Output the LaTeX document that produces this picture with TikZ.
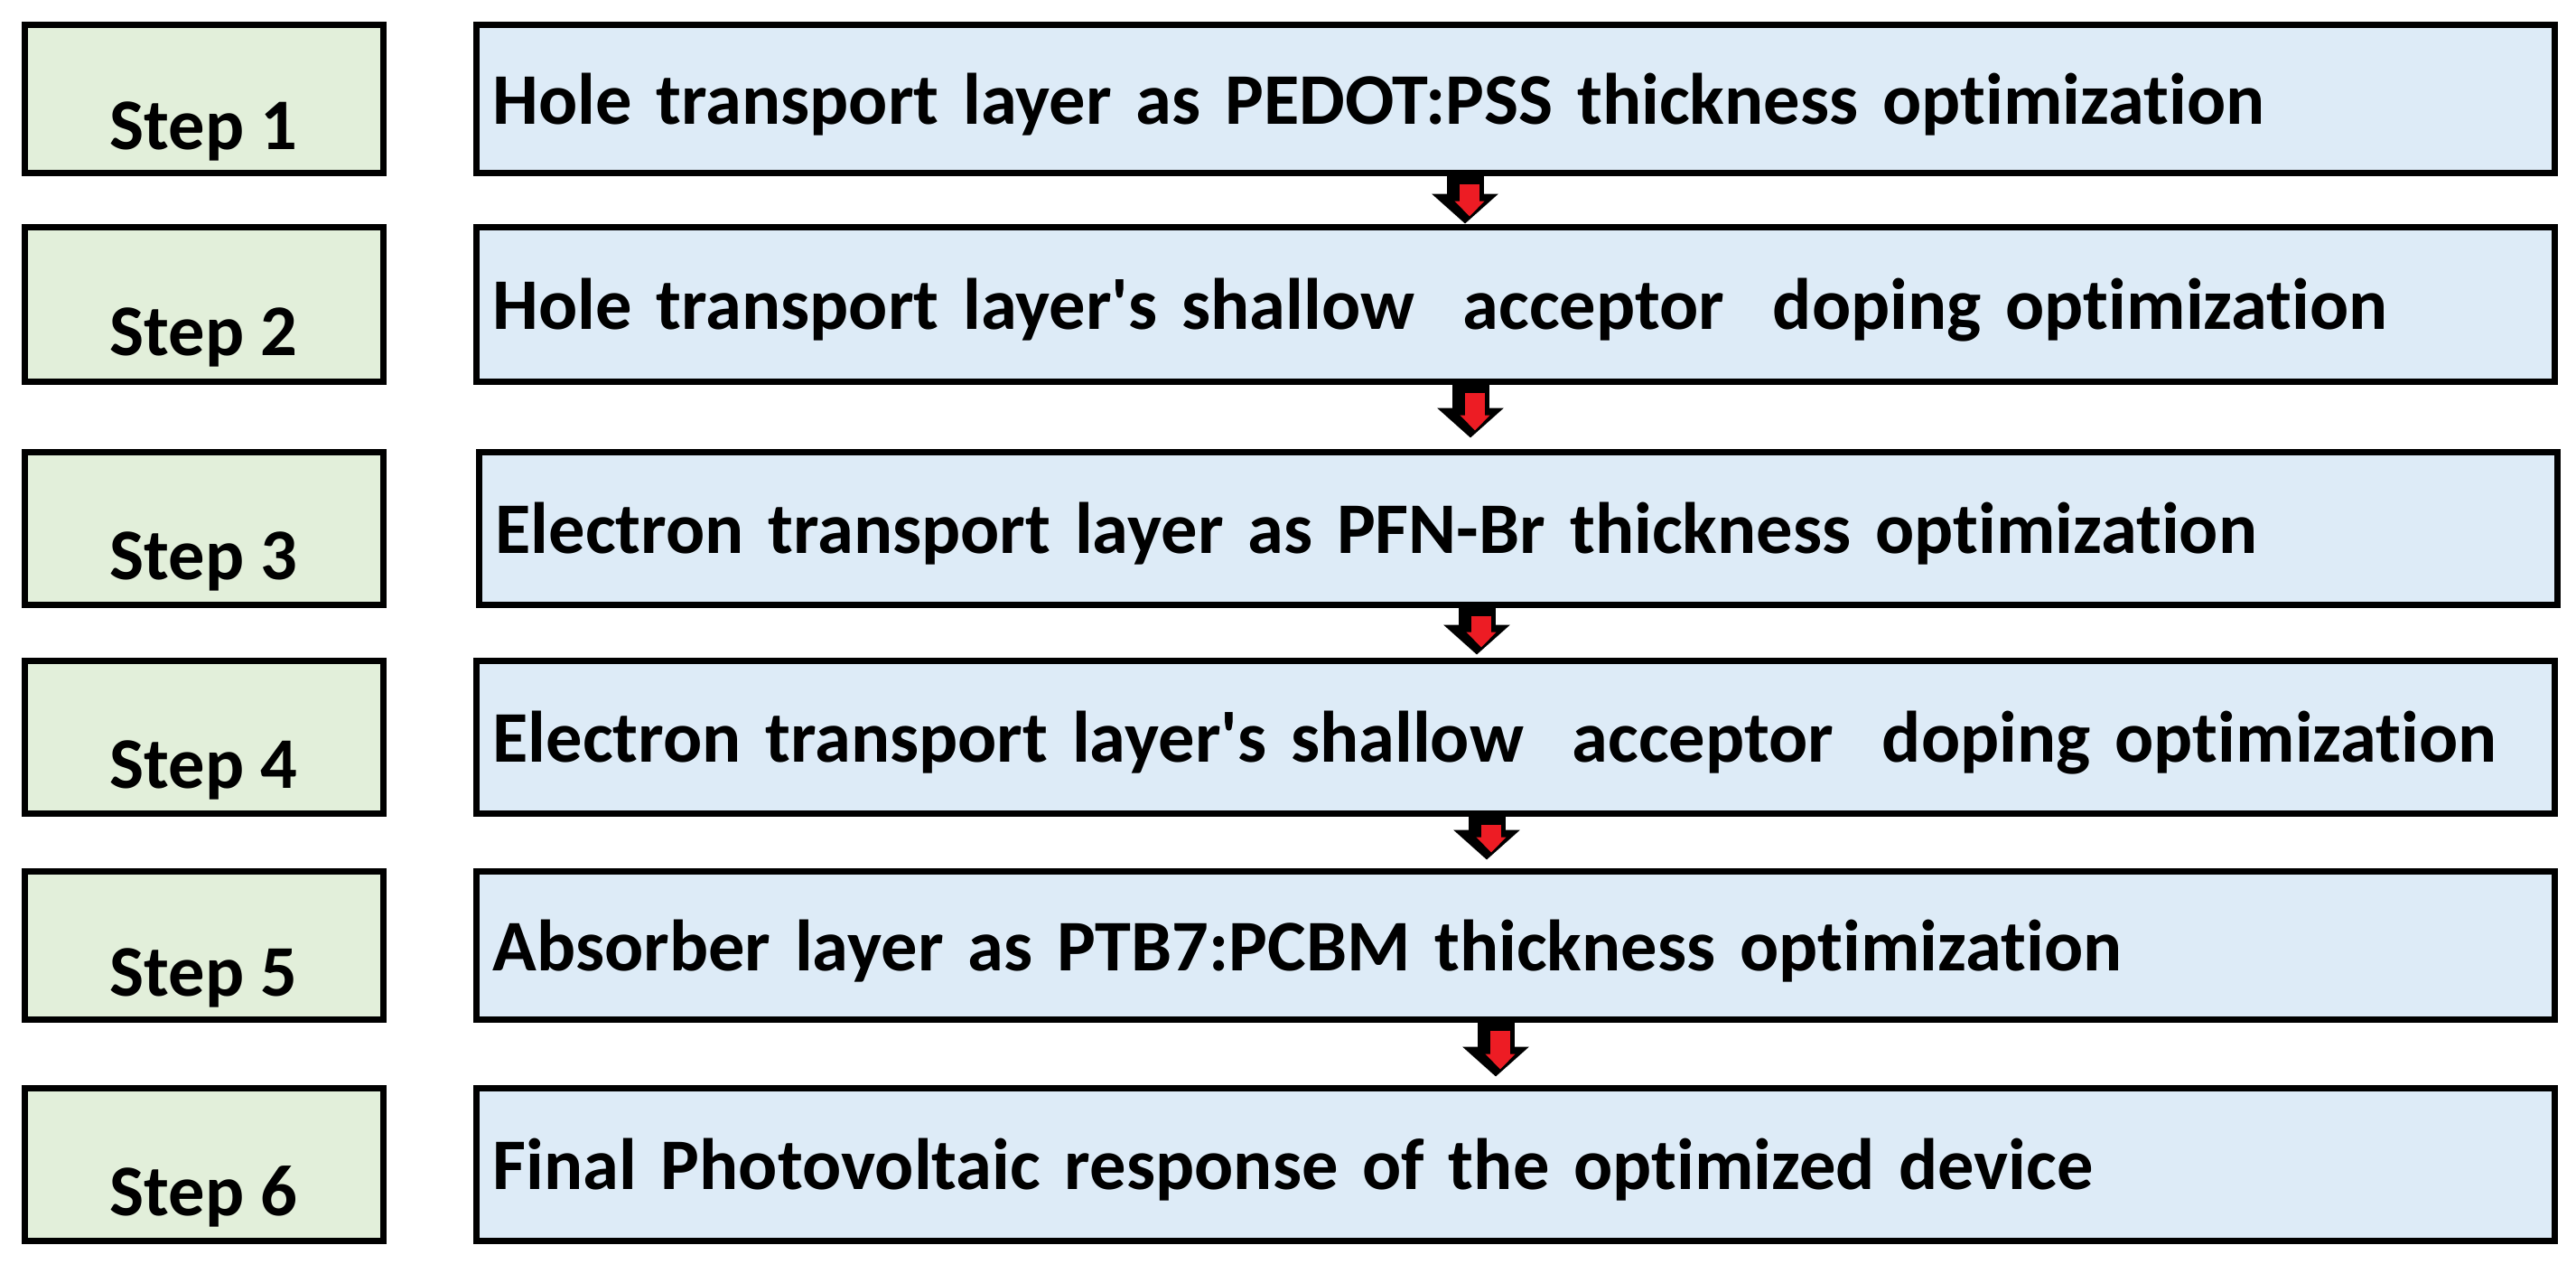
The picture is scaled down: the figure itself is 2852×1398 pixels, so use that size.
\documentclass[tikz,border=0pt]{standalone}
\usepackage{fontspec}
\setmainfont{Carlito}[Ligatures={NoCommon}]
\usepackage{tikz}
\usetikzlibrary{arrows.meta}

\definecolor{stepgreen}{HTML}{E2EFDA}
\definecolor{taskblue}{HTML}{DDEBF7}
\definecolor{arrowred}{HTML}{ED1C24}

\tikzset{
    stepbox/.style={draw=black, line width=0.7mm, fill=stepgreen, minimum width=39.7mm,
        inner sep=0pt, text height=11.3mm, text depth=0pt, font=\fontsize{22.9}{28}\selectfont\bfseries},
    taskbox/.style={draw=black, line width=0.7mm, fill=taskblue, anchor=west, minimum width=230.1mm,
        inner xsep=1.8mm, text width=226.5mm, align=left, text height=5.6mm, text depth=0pt,
        font=\fontsize{22.9}{28}\selectfont\bfseries},
    blockarrow/.style={line width=4.1mm, -{Triangle[width=7.2mm,length=3.3mm]}},
    redarrow/.style={arrowred, line width=2.2mm, -{Triangle[width=3.2mm,length=1.7mm]}}
}

\begin{document}
\begin{tikzpicture}[x=0.1mm, y=-0.1mm]
        \useasboundingbox (0,0) rectangle (2852,1398);

        \node[stepbox, minimum height=16.4mm] (step1) at (225.5,109) {Step 1};
        \node[stepbox, minimum height=17.1mm] (step2) at (225.5,336.5) {Step 2};
        \node[stepbox, minimum height=16.9mm] (step3) at (225.5,584.5) {Step 3};
        \node[stepbox, minimum height=16.9mm] (step4) at (225.5,815.5) {Step 4};
        \node[stepbox, minimum height=16.4mm] (step5) at (225.5,1046) {Step 5};
        \node[stepbox, minimum height=16.9mm] (step6) at (225.5,1288.5) {Step 6};

        \node[taskbox, minimum height=16.4mm] (task1) at (524,109) {Hole transport layer as PEDOT:PSS thickness optimization};
        \node[taskbox, minimum height=17.1mm] (task2) at (524,336.5) {Hole transport layer\textquotesingle s shallow\ \ acceptor\ \ doping optimization};
        \node[taskbox, minimum height=16.9mm] (task3) at (527,584.5) {Electron transport layer as PFN-Br thickness optimization};
        \node[taskbox, minimum height=16.9mm] (task4) at (524,815.5) {Electron transport layer\textquotesingle s shallow\ \ acceptor\ \ doping optimization};
        \node[taskbox, minimum height=16.4mm] (task5) at (524,1046) {Absorber layer as PTB7:PCBM thickness optimization};
        \node[taskbox, minimum height=16.9mm] (task6) at (524,1288.5) {Final Photovoltaic response of the optimized device};

        \coordinate (a1) at (1622,0);
        \coordinate (a2) at (1628,0);
        \coordinate (a3) at (1635,0);
        \coordinate (a4) at (1646,0);
        \coordinate (a5) at (1656,0);
        \coordinate (r1) at (1627,0);
        \coordinate (r2) at (1633,0);
        \coordinate (r3) at (1640,0);
        \coordinate (r4) at (1651,0);
        \coordinate (r5) at (1661,0);

        \draw[blockarrow] (task1.south -| a1) -- (task2.north -| a1);
        \draw[blockarrow, shorten >=1.2mm] (task2.south -| a2) -- (task3.north -| a2);
        \draw[blockarrow, shorten >=0.3mm] (task3.south -| a3) -- (task4.north -| a3);
        \draw[blockarrow, shorten >=0.9mm] (task4.south -| a4) -- (task5.north -| a4);
        \draw[blockarrow, shorten >=0.9mm] (task5.south -| a5) -- (task6.north -| a5);

        \draw[redarrow, shorten <=0.9mm, shorten >=0.8mm] (task1.south -| r1) -- (task2.north -| r1);
        \draw[redarrow, shorten <=0.9mm, shorten >=2.0mm] (task2.south -| r2) -- (task3.north -| r2);
        \draw[redarrow, shorten <=0.9mm, shorten >=1.1mm] (task3.south -| r3) -- (task4.north -| r3);
        \draw[redarrow, shorten <=0.9mm, shorten >=1.7mm] (task4.south -| r4) -- (task5.north -| r4);
        \draw[redarrow, shorten <=0.9mm, shorten >=1.7mm] (task5.south -| r5) -- (task6.north -| r5);
    \end{tikzpicture}
\end{document}
